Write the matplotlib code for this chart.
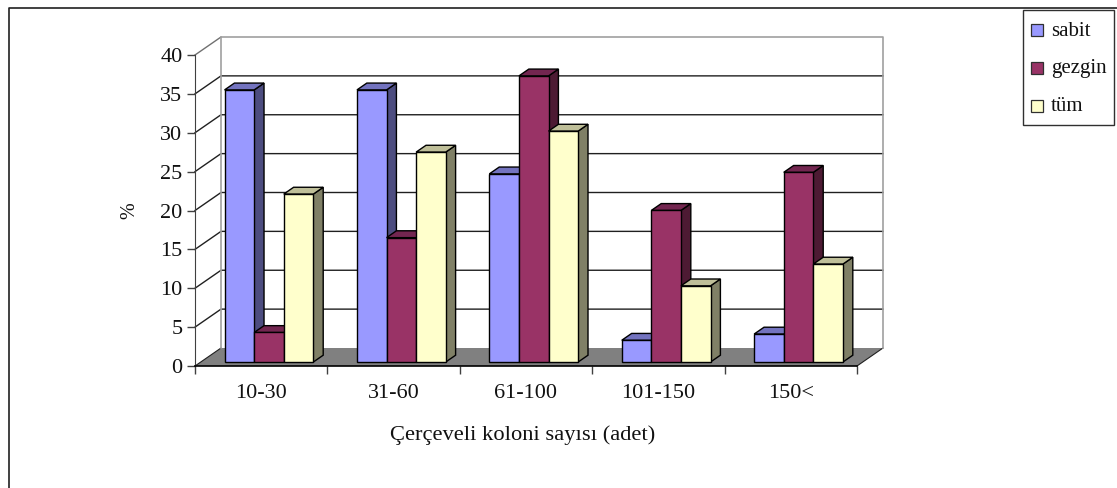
import matplotlib
matplotlib.use("Agg")
import matplotlib.pyplot as plt
from matplotlib.patches import Polygon, Rectangle

# Share of each column-count class, per crane type
categories = ["10-30", "31-60", "61-100", "101-150", "150<"]
series_names = ["sabit", "gezgin", "tüm"]
sabit = [35, 35, 24.2, 2.8, 3.6]
gezgin = [3.8, 16, 36.8, 19.5, 24.4]
tum = [21.6, 27, 29.7, 9.8, 12.6]
y_ticks = [0, 5, 10, 15, 20, 25, 30, 35, 40]

front_colors = ["#9999FF", "#993366", "#FFFFCC"]
top_colors = ["#7373BF", "#732650", "#BFBF99"]
side_colors = ["#4D4D80", "#4D1A33", "#808066"]

W, H = 1117, 488
plt.rcParams["font.family"] = ["Liberation Serif", "DejaVu Serif"]
fig = plt.figure(figsize=(W / 100, H / 100), dpi=100)

# Front plane of the 3D box: x 195-857 px, y 55-366 px
ax = fig.add_axes([195 / W, 1 - 366 / H, 662 / W, 311 / H])
ax.set_xlim(0, 5)
ax.set_ylim(0, 40)
ax.patch.set_visible(False)
for s in ["top", "right"]:
    ax.spines[s].set_visible(False)
ax.spines["left"].set_color("#404040")
ax.spines["bottom"].set_color("black")
ax.spines["bottom"].set_linewidth(1.2)

# Depth of the box in data units (26 px across, 18 px up)
DX = 26 / (662 / 5)
DY = 18 / (311 / 40)


def proj(x, y, d):
    return (x + DX * d, y + DY * d)


def face(pts, color, z, ec="black", lw=1.0):
    ax.add_patch(Polygon(pts, closed=True, facecolor=color, edgecolor=ec,
                         linewidth=lw, zorder=z, clip_on=False))


# Floor and walls
face([proj(0, 0, 0), proj(5, 0, 0), proj(5, 0, 1), proj(0, 0, 1)], "#808080", 1, ec="none", lw=0)
wall_top = 40
ax.plot([proj(0, 0, 1)[0], proj(0, wall_top, 1)[0], proj(5, wall_top, 1)[0], proj(5, 0, 1)[0]],
        [proj(0, 0, 1)[1], proj(0, wall_top, 1)[1], proj(5, wall_top, 1)[1], proj(5, 0, 1)[1]],
        color="#A0A0A0", lw=1.2, zorder=1.5, clip_on=False)

# Gridlines run along the back wall and down the left wall
for t in y_ticks[1:]:
    xs = [proj(0, t, 0)[0], proj(0, t, 1)[0], proj(5, t, 1)[0]]
    ys = [proj(0, t, 0)[1], proj(0, t, 1)[1], proj(5, t, 1)[1]]
    if t == 40:
        ax.plot(xs[:2], ys[:2], color="#707070", lw=1.0, zorder=1.2, clip_on=False)
    else:
        ax.plot(xs, ys, color="#202020", lw=1.0, zorder=1.2, clip_on=False)
ax.plot([proj(0, 0, 0)[0], proj(0, 0, 1)[0]], [0, DY], color="#202020", lw=0.8, zorder=1.2, clip_on=False)
ax.plot([proj(5, 0, 0)[0], proj(5, 0, 1)[0]], [0, DY], color="#202020", lw=0.8, zorder=1.2, clip_on=False)

# Bars: front face, top and right side, drawn left to right
BAR_W = 0.2235
GROUP_PAD = 0.18
D0, D1 = 0.22, 0.6
z = 2.0
for i in range(len(categories)):
    for j, vals in enumerate([sabit, gezgin, tum]):
        v = vals[i]
        x0 = i + GROUP_PAD + j * BAR_W
        x1 = x0 + BAR_W
        face([proj(x1, 0, D0), proj(x1, 0, D1), proj(x1, v, D1), proj(x1, v, D0)], side_colors[j], z)
        face([proj(x0, v, D0), proj(x1, v, D0), proj(x1, v, D1), proj(x0, v, D1)], top_colors[j], z + 0.01)
        face([proj(x0, 0, D0), proj(x1, 0, D0), proj(x1, v, D0), proj(x0, v, D0)], front_colors[j], z + 0.02)
        z += 0.1

ax.set_yticks(y_ticks)
ax.set_xticks(range(len(categories) + 1))
ax.set_xticklabels([""] * (len(categories) + 1))
ax.tick_params(axis="y", length=6, width=1, color="#404040", labelsize=16, pad=3, labelcolor="#111111")
ax.tick_params(axis="x", length=6, width=1, color="#404040")

for i, c in enumerate(categories):
    ax.annotate(c, (i + 0.5, 0), xytext=(0, -27), textcoords="offset pixels", ha="center", va="center",
                fontsize=16, color="#111111")

fig.text(523 / W, 1 - 435 / H, "Çerçeveli koloni sayısı (adet)", ha="center", va="center",
         fontsize=16.2, color="#111111")
fig.text(130 / W, 1 - 211 / H, "%", rotation=90, ha="center", va="center", fontsize=14.5, color="#111111")

# Outer chart frame
fig.add_artist(plt.Line2D([8.5 / W, 8.5 / W, 1], [0, 1 - 8 / H, 1 - 8 / H], color="#202020", lw=1.2))

# Legend box, laid out by hand to sit against the top-right corner
fig.add_artist(Rectangle((1023 / W, 1 - 124.5 / H), 91 / W, 114.5 / H, transform=fig.transFigure,
                         facecolor="white", edgecolor="#303030", lw=1.0))
for k, (name, y) in enumerate(zip(series_names, [30, 68, 106])):
    fig.add_artist(Rectangle((1031 / W, 1 - (y + 6) / H), 12 / W, 12 / H, transform=fig.transFigure,
                             facecolor=front_colors[k], edgecolor="#303030", lw=0.9))
    fig.text(1051 / W, 1 - (y + 1) / H, name, ha="left", va="center", fontsize=15, color="#111111")

fig.savefig("out.png", dpi=100)
